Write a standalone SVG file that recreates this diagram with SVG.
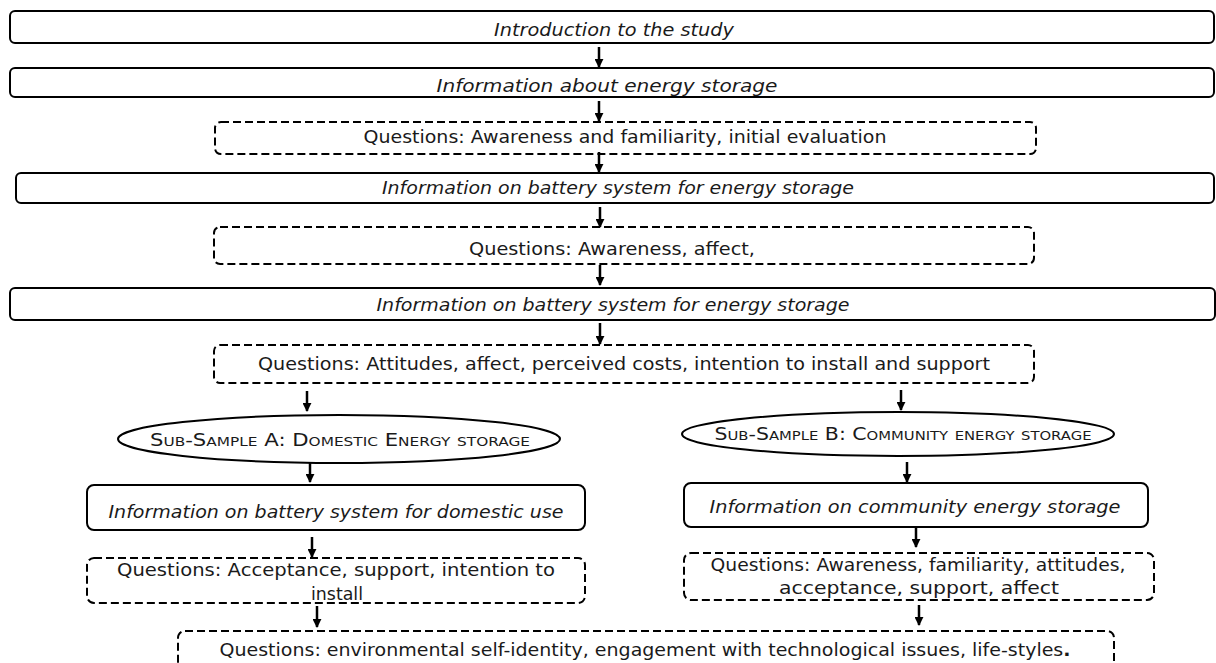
<svg xmlns="http://www.w3.org/2000/svg" width="1216" height="663" viewBox="0 0 1216 663">
<style>
.box{fill:#fff;stroke:#000;stroke-width:2}
.dbox{fill:#fff;stroke:#000;stroke-width:2;stroke-dasharray:8 4}
.t{font-family:"DejaVu Sans","Liberation Sans",sans-serif;font-size:18px;fill:#1a1a1a;text-anchor:middle}
.i{font-style:italic}
.sc{font-variant:small-caps;font-size:18px}
.arr{stroke:#000;stroke-width:2.5;fill:none;marker-end:url(#ah)}
</style>
<defs>
<marker id="ah" viewBox="0 0 10 10" refX="9" refY="5" markerWidth="3.6" markerHeight="3.6" markerUnits="strokeWidth" orient="auto">
<path d="M0,0 L10,5 L0,10 z" fill="#000"/>
</marker>
</defs>
<rect width="1216" height="663" fill="#fff"/>

<g id="n1"><rect class="box" x="10" y="11" width="1204" height="32" rx="5"/>
<text class="t i" x="614" y="36" textLength="240" lengthAdjust="spacingAndGlyphs">Introduction to the study</text></g>

<g id="n2"><rect class="box" x="10" y="68" width="1204" height="29" rx="5"/>
<text class="t i" x="607" y="92" textLength="341" lengthAdjust="spacingAndGlyphs">Information about energy storage</text></g>

<g id="n3"><rect class="dbox" x="215" y="122" width="821" height="32" rx="6"/>
<text class="t" x="625" y="143" textLength="523" lengthAdjust="spacingAndGlyphs">Questions: Awareness and familiarity, initial evaluation</text></g>

<g id="n4"><rect class="box" x="16" y="173" width="1198" height="30" rx="5"/>
<text class="t i" x="618" y="194" textLength="472" lengthAdjust="spacingAndGlyphs">Information on battery system for energy storage</text></g>

<g id="n5"><rect class="dbox" x="214" y="227" width="820" height="37" rx="6"/>
<text class="t" x="612" y="255" textLength="286" lengthAdjust="spacingAndGlyphs">Questions: Awareness, affect,</text></g>

<g id="n6"><rect class="box" x="10" y="288" width="1205" height="32" rx="5"/>
<text class="t i" x="613" y="311" textLength="473" lengthAdjust="spacingAndGlyphs">Information on battery system for energy storage</text></g>

<g id="n7"><rect class="dbox" x="214" y="345" width="820" height="38" rx="6"/>
<text class="t" x="624" y="370" textLength="732" lengthAdjust="spacingAndGlyphs">Questions: Attitudes, affect, perceived costs, intention to install and support</text></g>

<g id="nA"><ellipse class="box" cx="339" cy="439" rx="221" ry="24"/>
<text class="t sc" x="340" y="446" textLength="380" lengthAdjust="spacingAndGlyphs">Sub-Sample A: Domestic Energy storage</text></g>

<g id="nB"><ellipse class="box" cx="898" cy="434" rx="216" ry="22"/>
<text class="t sc" x="903" y="440" textLength="377" lengthAdjust="spacingAndGlyphs">Sub-Sample B: Community energy storage</text></g>

<g id="nA1"><rect class="box" x="87" y="485" width="498" height="45" rx="7"/>
<text class="t i" x="336" y="518" textLength="455" lengthAdjust="spacingAndGlyphs">Information on battery system for domestic use</text></g>

<g id="nB1"><rect class="box" x="684" y="483" width="464" height="44" rx="7"/>
<text class="t i" x="915" y="513" textLength="411" lengthAdjust="spacingAndGlyphs">Information on community energy storage</text></g>

<g id="nA2"><rect class="dbox" x="87" y="558" width="498" height="45" rx="7"/>
<text class="t" x="336" y="576" textLength="438" lengthAdjust="spacingAndGlyphs">Questions: Acceptance, support, intention to</text>
<text class="t" x="337" y="600" textLength="52" lengthAdjust="spacingAndGlyphs">install</text></g>

<g id="nB2"><rect class="dbox" x="684" y="553" width="470" height="47" rx="7"/>
<text class="t" x="918" y="571" textLength="415" lengthAdjust="spacingAndGlyphs">Questions: Awareness, familiarity, attitudes,</text>
<text class="t" x="919" y="594" textLength="280" lengthAdjust="spacingAndGlyphs">acceptance, support, affect</text></g>

<g id="n8"><rect class="dbox" x="178" y="631" width="936" height="60" rx="7"/>
<text class="t" x="645" y="656" textLength="851" lengthAdjust="spacingAndGlyphs">Questions: environmental self-identity, engagement with technological issues, life-styles<tspan font-weight="bold">.</tspan></text></g>

<g id="connectors">
<line class="arr" x1="599" y1="47" x2="599" y2="67"/>
<line class="arr" x1="599" y1="101" x2="599" y2="121"/>
<line class="arr" x1="599" y1="152" x2="599" y2="172"/>
<line class="arr" x1="600" y1="207" x2="600" y2="227"/>
<line class="arr" x1="600" y1="265" x2="600" y2="285"/>
<line class="arr" x1="600" y1="323" x2="600" y2="344"/>
<line class="arr" x1="307" y1="391" x2="307" y2="411"/>
<line class="arr" x1="901" y1="390" x2="901" y2="410"/>
<line class="arr" x1="310" y1="462" x2="310" y2="482"/>
<line class="arr" x1="907" y1="462" x2="907" y2="482"/>
<line class="arr" x1="312" y1="537" x2="312" y2="557"/>
<line class="arr" x1="916" y1="527" x2="916" y2="547"/>
<line class="arr" x1="317" y1="606" x2="317" y2="627"/>
<line class="arr" x1="919" y1="605" x2="919" y2="625"/>
</g>
</svg>
